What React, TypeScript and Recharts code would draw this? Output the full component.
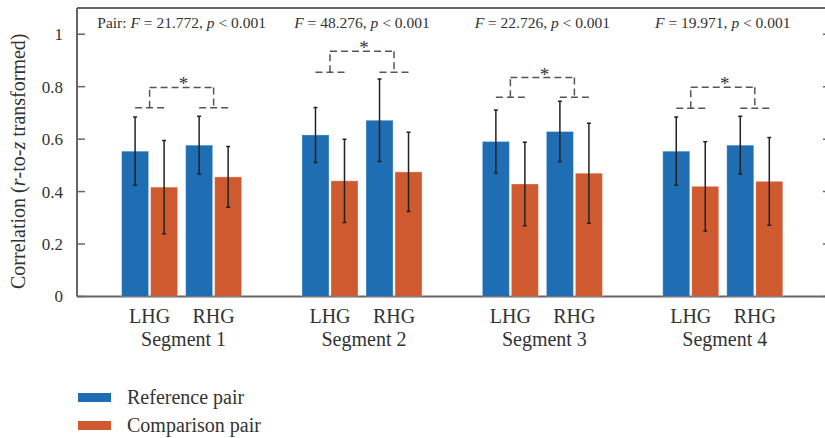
import React from "react";
import { ScatterChart, Scatter, XAxis, YAxis, ReferenceLine, ReferenceDot } from "recharts";

const segments = ["Segment 1", "Segment 2", "Segment 3", "Segment 4"];
const hemispheres = ["LHG", "RHG"];

// order: seg1 LHG, seg1 RHG, seg2 LHG, ...
const refMeans = [0.554, 0.577, 0.616, 0.672, 0.591, 0.629, 0.554, 0.577];
const refErrs = [0.13, 0.11, 0.105, 0.157, 0.12, 0.115, 0.13, 0.11];
const compMeans = [0.417, 0.456, 0.441, 0.475, 0.429, 0.47, 0.42, 0.439];
const compErrs = [0.178, 0.116, 0.159, 0.151, 0.159, 0.191, 0.17, 0.167];

const fStats = ["21.772", "48.276", "22.726", "19.971"];
const pText = "0.001";

// significance bracket levels per segment
const bracketLow = [0.72, 0.855, 0.76, 0.718];
const bracketHigh = [0.797, 0.935, 0.835, 0.798];

const yTicks = [0, 0.2, 0.4, 0.6, 0.8, 1];

const legendItems = [
  { name: "Reference pair", color: "#1f6eb4" },
  { name: "Comparison pair", color: "#d05a30" },
];

const FONT = "'Liberation Serif', 'Times New Roman', serif";
const TEXT = "#333";
const AXIS = "#666";

// layout
const CHART_W = 835;
const CHART_H = 382;
const HEMI_AXIS_H = 30;
const SEG_AXIS_H = 55.5;
const PLOT_BOTTOM = CHART_H - HEMI_AXIS_H - SEG_AXIS_H;
const X_DOMAIN = [0.42, 4.6];
const PAIR_OFFSET = 0.1775; // LHG / RHG around segment centre
const BAR_OFFSET = 0.0804; // reference / comparison around pair centre
const BAR_W = 27;

const segCenters = segments.map((_, i) => i + 1);
const pairPos = (i: number) => Math.floor(i / 2) + 1 + (i % 2 ? PAIR_OFFSET : -PAIR_OFFSET);
const pairTicks = refMeans.map((_, i) => pairPos(i));

const refRows = refMeans.map((v, i) => ({ x: pairPos(i) - BAR_OFFSET, v, err: refErrs[i] }));
const compRows = compMeans.map((v, i) => ({ x: pairPos(i) + BAR_OFFSET, v, err: compErrs[i] }));

const brackets = segCenters.flatMap((c, i) => {
  const l = c - PAIR_OFFSET;
  const r = c + PAIR_OFFSET;
  const lo = bracketLow[i];
  const hi = bracketHigh[i];
  return [
    [{ x: l - BAR_OFFSET, y: lo }, { x: l + BAR_OFFSET, y: lo }],
    [{ x: l, y: lo }, { x: l, y: hi }],
    [{ x: l, y: hi }, { x: r, y: hi }],
    [{ x: r, y: hi }, { x: r, y: lo }],
    [{ x: r - BAR_OFFSET, y: lo }, { x: r + BAR_OFFSET, y: lo }],
  ];
});

// bar from the point down to the zero line, with its error bar (scaled like the bar)
const BarShape = (props: any) => {
  const { cx, cy, color } = props;
  const d = props.payload || props;
  const h = Math.max(0, PLOT_BOTTOM - cy);
  const e = d.v > 0 ? (d.err * h) / d.v : 0;
  return (
    <g>
      <rect
        x={cx - BAR_W / 2}
        y={cy}
        width={BAR_W}
        height={h}
        fill={color}
        stroke="#ffffff"
        strokeOpacity={0.3}
        strokeWidth={1}
      />
      <g stroke="#222" strokeWidth={1.5}>
        <line x1={cx} x2={cx} y1={cy - e} y2={cy + e} />
        <line x1={cx - 2} x2={cx + 2} y1={cy - e} y2={cy - e} />
        <line x1={cx - 2} x2={cx + 2} y1={cy + e} y2={cy + e} />
      </g>
    </g>
  );
};

const HemiTick = (props: any) => {
  const { x, y, payload } = props;
  const idx = pairTicks.findIndex((t) => Math.abs(t - payload.value) < 1e-6);
  return (
    <text x={x} y={y + 26} textAnchor="middle" fontFamily={FONT} fontSize={20} fill={TEXT}>
      {idx >= 0 ? hemispheres[idx % 2] : ""}
    </text>
  );
};

const SegTick = (props: any) => {
  const { x, y, payload } = props;
  return (
    <text x={x + 2} y={y + 19} textAnchor="middle" fontFamily={FONT} fontSize={20} fill={TEXT}>
      {segments[Math.round(payload.value) - 1]}
    </text>
  );
};

const LeftTick = (props: any) => {
  const { x, y, payload } = props;
  return (
    <g>
      <line x1={x} x2={x + 8} y1={y} y2={y} stroke={AXIS} strokeWidth={1.5} />
      <text x={x - 14} y={y} dy="0.35em" textAnchor="end" fontFamily={FONT} fontSize={17} fill={TEXT}>
        {String(payload.value)}
      </text>
    </g>
  );
};

const RightTick = (props: any) => {
  const { x, y } = props;
  return <line x1={x - 8} x2={x} y1={y} y2={y} stroke={AXIS} strokeWidth={1.5} />;
};

const YLabel = (props: any) => {
  const vb = props.viewBox || { x: 0, y: 8, width: 77, height: 288.5 };
  const x = vb.x + 25;
  const y = vb.y + vb.height / 2 + 9;
  return (
    <text
      x={x}
      y={y}
      transform={`rotate(-90 ${x} ${y})`}
      textAnchor="middle"
      fontFamily={FONT}
      fontSize={20}
      fill={TEXT}
    >
      Correlation (<tspan fontStyle="italic">r</tspan>-to-<tspan fontStyle="italic">z</tspan> transformed)
    </text>
  );
};

const Star = (props: any) => (
  <text x={props.cx + 2} y={props.cy + 3} textAnchor="middle" fontFamily={FONT} fontSize={19} fill={TEXT}>
    *
  </text>
);

const Stat = (props: any) => {
  const i = props.idx;
  return (
    <text x={props.cx} y={props.cy} textAnchor="middle" fontFamily={FONT} fontSize={15.5} fill={TEXT}>
      {i === 0 ? "Pair: " : ""}
      <tspan fontStyle="italic">F</tspan>
      {` = ${fStats[i]}, `}
      <tspan fontStyle="italic">p</tspan>
      {` < ${pText}`}
    </text>
  );
};

export default function App() {
  return (
    <div
      style={{
        position: "absolute",
        left: 0,
        top: 0,
        width: 825,
        height: 438,
        overflow: "hidden",
        background: "#fff",
      }}
    >
      <ScatterChart width={CHART_W} height={CHART_H} margin={{ top: 8, right: 0, left: 0, bottom: 0 }}>
        <XAxis
          dataKey="x"
          type="number"
          domain={X_DOMAIN}
          allowDataOverflow
          ticks={pairTicks}
          interval={0}
          tick={<HemiTick />}
          tickLine={false}
          tickSize={0}
          tickMargin={0}
          height={HEMI_AXIS_H}
          axisLine={{ stroke: AXIS, strokeWidth: 2 }}
        />
        <XAxis
          xAxisId="seg"
          dataKey="x"
          type="number"
          domain={X_DOMAIN}
          allowDataOverflow
          ticks={segCenters}
          interval={0}
          tick={<SegTick />}
          tickLine={false}
          tickSize={0}
          tickMargin={0}
          height={SEG_AXIS_H}
          axisLine={false}
        />
        <YAxis
          dataKey="v"
          type="number"
          domain={[0, 1.1]}
          allowDataOverflow
          ticks={yTicks}
          interval={0}
          width={77}
          tick={<LeftTick />}
          tickLine={false}
          tickSize={0}
          tickMargin={0}
          axisLine={{ stroke: AXIS, strokeWidth: 2 }}
          label={<YLabel />}
        />
        <YAxis
          yAxisId="r"
          orientation="right"
          dataKey="v"
          type="number"
          domain={[0, 1.1]}
          allowDataOverflow
          ticks={yTicks}
          interval={0}
          width={4}
          tick={<RightTick />}
          tickLine={false}
          tickSize={0}
          tickMargin={0}
          axisLine={{ stroke: AXIS, strokeWidth: 2 }}
        />
        <ReferenceLine y={1.1} stroke={AXIS} strokeWidth={2} />
        <Scatter
          name="Reference pair"
          data={refRows}
          shape={<BarShape color={legendItems[0].color} />}
          isAnimationActive={false}
        />
        <Scatter
          name="Comparison pair"
          data={compRows}
          shape={<BarShape color={legendItems[1].color} />}
          isAnimationActive={false}
        />
        {brackets.map((seg, i) => (
          <ReferenceLine
            key={`br-${i}`}
            segment={seg}
            stroke="#555"
            strokeWidth={1.5}
            strokeDasharray="7 4"
          />
        ))}
        {segCenters.map((c, i) => (
          <ReferenceDot key={`star-${i}`} x={c} y={bracketHigh[i]} r={0} shape={<Star />} />
        ))}
        {segCenters.map((c, i) => (
          <ReferenceDot key={`stat-${i}`} x={c} y={1.0225} r={0} shape={<Stat idx={i} />} />
        ))}
      </ScatterChart>
      <div
        style={{
          position: "absolute",
          left: 0,
          top: CHART_H,
          height: 56,
          paddingLeft: 78,
          paddingTop: 1,
          boxSizing: "border-box",
          fontFamily: FONT,
          fontSize: 20,
          color: TEXT,
        }}
      >
        {legendItems.map((it) => (
          <div key={it.name} style={{ display: "flex", alignItems: "center", height: 28 }}>
            <span style={{ width: 33, height: 9, background: it.color, marginRight: 16 }} />
            {it.name}
          </div>
        ))}
      </div>
    </div>
  );
}
